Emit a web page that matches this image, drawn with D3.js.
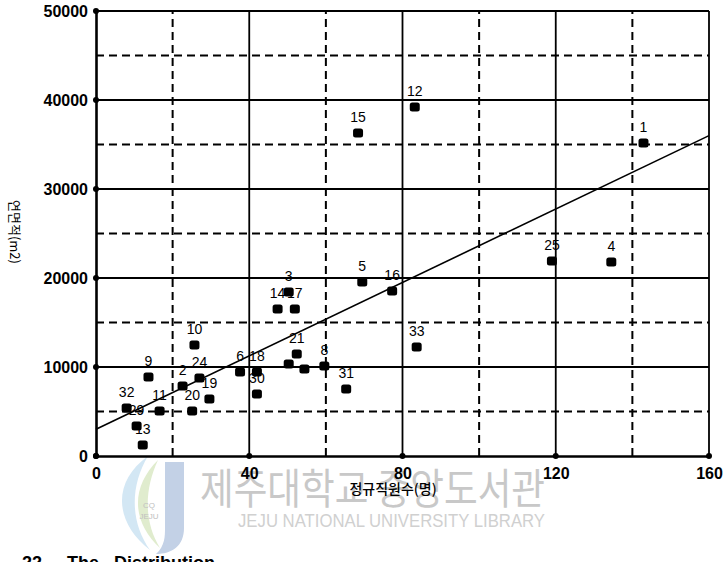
<!DOCTYPE html>
<html>
<head>
<meta charset="utf-8">
<script src="https://cdn.jsdelivr.net/npm/d3@7"></script>
<style>
  body { margin: 0; background: #fff; }
  svg { display: block; }
</style>
</head>
<body>
<div id="chart"></div>
<script>
// point numbers, staff count (x) and floor area (y)
const pointLabels = ['1', '2', '3', '4', '5', '6', '8', '9', '10', '11', '12', '13', '14', '15', '16',
    '17', '18', '19', '20', '21', '24', '25', '29', '30', '31', '32', '33', '', ''];
const staff = [142.9, 22.6, 50.3, 134.5, 69.5, 37.6, 59.6, 13.7, 25.7, 16.6, 83.2, 12.2, 47.4, 68.4, 77.3,
    51.9, 42.0, 29.6, 25.1, 52.4, 27.0, 119.0, 10.6, 42.0, 65.3, 8.0, 83.7, 50.3, 54.4];
const floorArea = [35170, 7870, 18430, 21800, 19550, 9440, 10110, 8880, 12470, 5060, 39210, 1240, 16520, 36290, 18540,
    16520, 9440, 6400, 5060, 11460, 8760, 21910, 3370, 6970, 7530, 5390, 12250, 10340, 9780];

// fitted trend line end points
const fitLine = [[0, 3000], [160, 36000]];

const xTicks = [0, 40, 80, 120, 160];
const yTicks = [0, 10000, 20000, 30000, 40000, 50000];
const xDashed = [20, 60, 100, 140];
const yDashed = [5000, 15000, 25000, 35000, 45000];

const xTitle = '정규직원수(명)';
const yTitle = '연면적(m2)';

const W = 725, H = 562;
const margin = { top: 11, right: 12, bottom: 106, left: 96 };

const svg = d3.select('#chart')
    .append('svg')
    .attr('width', W)
    .attr('height', H);

svg.append('rect').attr('width', W).attr('height', H).attr('fill', '#fff');

const x = d3.scaleLinear().domain([0, 160]).range([margin.left, W - margin.right - 4]);
const y = d3.scaleLinear().domain([0, 50000]).range([H - margin.bottom, margin.top]);

// library watermark (faint, sits under the chart)
const wm = svg.append('g').attr('class', 'watermark');
wm.append('path')
    .attr('d', 'M148,456 C112,482 114,522 150,550 C130,522 130,486 148,456 Z')
    .attr('fill', '#d3e7f4');
wm.append('path')
    .attr('d', 'M158,460 C130,488 132,522 160,548 C144,522 144,490 158,460 Z')
    .attr('fill', '#e0ecce');
wm.append('path')
    .attr('d', 'M165,462 L184,462 L184,528 C184,546 172,554 156,554 C165,546 165,536 165,528 Z')
    .attr('fill', '#c3d1e6');
wm.append('text')
    .attr('x', 149).attr('y', 508)
    .attr('text-anchor', 'middle')
    .attr('font-family', 'Liberation Sans, Arial, sans-serif')
    .attr('font-size', 8).attr('fill', '#c0c0c0')
    .text('CQ');
wm.append('text')
    .attr('x', 149).attr('y', 519)
    .attr('text-anchor', 'middle')
    .attr('font-family', 'Liberation Sans, Arial, sans-serif')
    .attr('font-size', 8).attr('fill', '#c0c0c0')
    .text('JEJU');
wm.append('text')
    .attr('x', 200).attr('y', 504)
    .attr('font-family', '"Noto Sans CJK KR", sans-serif')
    .attr('font-size', 42)
    .attr('textLength', 345)
    .attr('lengthAdjust', 'spacingAndGlyphs')
    .attr('fill', '#c8c8c8')
    .text('제주대학교 중앙도서관');
wm.append('text')
    .attr('x', 238).attr('y', 527)
    .attr('font-family', '"Liberation Sans", Arial, sans-serif')
    .attr('font-size', 19)
    .attr('textLength', 307)
    .attr('lengthAdjust', 'spacingAndGlyphs')
    .attr('fill', '#d0d0d0')
    .text('JEJU NATIONAL UNIVERSITY LIBRARY');

// dashed grid
const grid = svg.append('g').attr('class', 'grid');
grid.selectAll('line.hd')
    .data(yDashed)
    .enter()
    .append('line')
    .attr('class', 'hd')
    .attr('x1', x(0)).attr('x2', x(160))
    .attr('y1', d => y(d)).attr('y2', d => y(d))
    .attr('stroke', '#000').attr('stroke-width', 2)
    .attr('stroke-dasharray', '8,5');
grid.selectAll('line.vd')
    .data(xDashed)
    .enter()
    .append('line')
    .attr('class', 'vd')
    .attr('x1', d => x(d)).attr('x2', d => x(d))
    .attr('y1', y(0)).attr('y2', y(50000))
    .attr('stroke', '#000').attr('stroke-width', 2)
    .attr('stroke-dasharray', '8,5');

// solid grid
grid.selectAll('line.hs')
    .data(yTicks.slice(1))
    .enter()
    .append('line')
    .attr('class', 'hs')
    .attr('x1', x(0)).attr('x2', x(160))
    .attr('y1', d => y(d)).attr('y2', d => y(d))
    .attr('stroke', '#000').attr('stroke-width', 1.8);
grid.selectAll('line.vs')
    .data(xTicks.slice(1))
    .enter()
    .append('line')
    .attr('class', 'vs')
    .attr('x1', d => x(d)).attr('x2', d => x(d))
    .attr('y1', y(0)).attr('y2', y(50000))
    .attr('stroke', '#000').attr('stroke-width', 1.8);

// axes
const yAxis = svg.append('g')
    .attr('transform', 'translate(' + x(0) + ',0)')
    .call(d3.axisLeft(y).tickValues(yTicks).tickSize(0).tickPadding(8).tickFormat(d3.format('d')));
const xAxis = svg.append('g')
    .attr('transform', 'translate(0,' + y(0) + ')')
    .call(d3.axisBottom(x).tickValues(xTicks).tickSize(0).tickPadding(12).tickFormat(d3.format('d')));

[yAxis, xAxis].forEach(function (ax) {
    ax.select('.domain').attr('stroke', '#000').attr('stroke-width', 2.6);
    ax.selectAll('text')
        .attr('fill', '#000')
        .style('font-family', '"Liberation Sans", Arial, sans-serif')
        .style('font-size', '16px')
        .style('font-weight', 'bold');
});
yAxis.selectAll('text').attr('dy', '0.36em');

// tick dots on axes
svg.selectAll('circle.ydot')
    .data(yTicks)
    .enter()
    .append('circle')
    .attr('cx', x(0)).attr('cy', d => y(d)).attr('r', 3)
    .attr('fill', '#000');
svg.selectAll('circle.xdot')
    .data(xTicks)
    .enter()
    .append('circle')
    .attr('cx', d => x(d)).attr('cy', y(0)).attr('r', 3)
    .attr('fill', '#000');

// trend line
svg.append('path')
    .datum(fitLine)
    .attr('d', d3.line().x(d => x(d[0])).y(d => y(d[1])))
    .attr('fill', 'none')
    .attr('stroke', '#000')
    .attr('stroke-width', 1.6);

// points
const pts = d3.range(staff.length);
svg.append('g')
    .selectAll('rect')
    .data(pts)
    .enter()
    .append('rect')
    .attr('x', i => x(staff[i]) - 5)
    .attr('y', i => y(floorArea[i]) - 4.5)
    .attr('width', 10)
    .attr('height', 9)
    .attr('rx', 2.5)
    .attr('fill', '#000');

svg.append('g')
    .selectAll('text')
    .data(pts)
    .enter()
    .append('text')
    .attr('x', i => x(staff[i]))
    .attr('y', i => y(floorArea[i]) - 11)
    .attr('text-anchor', 'middle')
    .attr('font-family', '"Liberation Sans", Arial, sans-serif')
    .attr('font-size', 14)
    .attr('fill', '#000')
    .text(i => pointLabels[i]);

// axis titles
svg.append('text')
    .attr('x', 393).attr('y', 494)
    .attr('text-anchor', 'middle')
    .attr('font-family', '"Noto Sans CJK KR", sans-serif')
    .attr('font-size', 14)
    .attr('font-weight', 500)
    .attr('fill', '#000')
    .text(xTitle);
svg.append('text')
    .attr('transform', 'translate(10,232) rotate(90)')
    .attr('text-anchor', 'middle')
    .attr('font-family', '"Noto Sans CJK KR", sans-serif')
    .attr('font-size', 13)
    .attr('fill', '#000')
    .text(yTitle);

// caption line cut off by the page edge
svg.append('text')
    .attr('x', 22).attr('y', 569)
    .attr('font-family', '"Liberation Sans", Arial, sans-serif')
    .attr('font-size', 18)
    .attr('font-weight', 'bold')
    .attr('fill', '#000')
    .attr('xml:space', 'preserve')
    .text('22     The   Distribution');
</script>
</body>
</html>
